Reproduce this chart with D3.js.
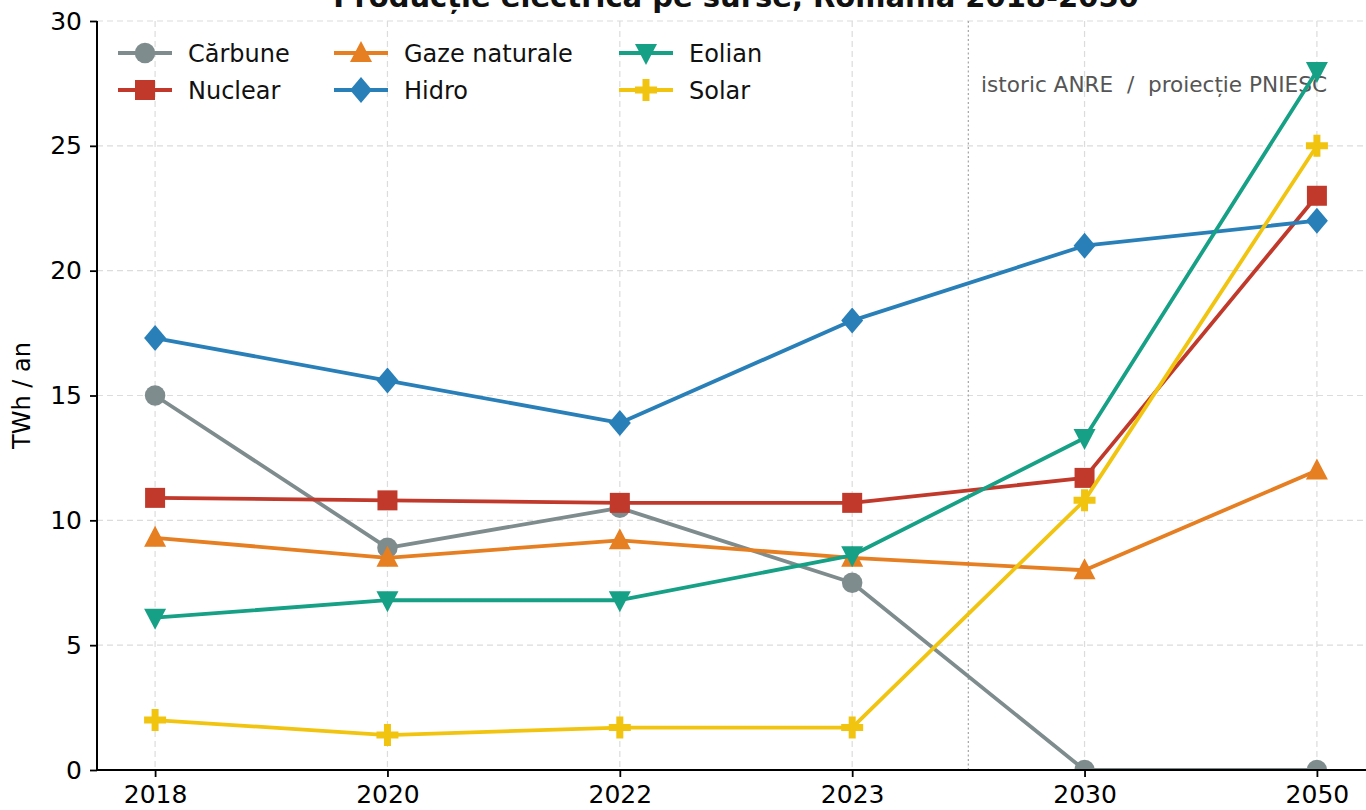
<!DOCTYPE html>
<html><head><meta charset="utf-8">
<script src="https://cdn.jsdelivr.net/npm/d3@7"></script>
<style>
html,body{margin:0;padding:0;background:#fff;overflow:hidden;}
text{font-family:"DejaVu Sans",sans-serif;}
</style></head>
<body>
<svg id="c" width="1366" height="810"></svg>
<script>
const years = ["2018","2020","2022","2023","2030","2050"];
const yTicks = [0,5,10,15,20,25,30];
const seriesNames = ["Cărbune","Nuclear","Gaze naturale","Hidro","Eolian","Solar"];
const carbune = [15.0, 8.9, 10.5, 7.5, 0, 0];
const nuclear = [10.9, 10.8, 10.7, 10.7, 11.7, 23.0];
const gaze = [9.3, 8.5, 9.2, 8.5, 8.0, 12.0];
const hidro = [17.3, 15.6, 13.9, 18.0, 21.0, 22.0];
const eolian = [6.1, 6.8, 6.8, 8.6, 13.3, 28.0];
const solar = [2.0, 1.4, 1.7, 1.7, 10.8, 25.0];
const colors = ["#7f8c8d","#c0392b","#e67e22","#2980b9","#16a085","#f1c40f"];
const markers = ["circle","square","triUp","diamond","triDown","plus"];
const title = "Producție electrică pe surse, România 2018-2050";
const yLabel = "TWh / an";
const note = "istoric ANRE  /  proiecție PNIESC";

const values = [carbune, nuclear, gaze, hidro, eolian, solar];
const series = seriesNames.map((n,i)=>({name:n, color:colors[i], marker:markers[i], values:values[i]}));

const svg = d3.select("#c");
const L = 97, R = 1375, T = 21, B = 770;
const x = d3.scalePoint().domain(years).range([L,R]).padding(0.25);
const y = d3.scaleLinear().domain([0,30]).range([B,T]);

svg.append("defs").append("clipPath").attr("id","clip")
  .append("rect").attr("x",L).attr("y",T).attr("width",R-L).attr("height",B-T);

// grid
const g = svg.append("g");
g.selectAll(".hg").data(yTicks).join("line")
  .attr("x1",L).attr("x2",R).attr("y1",d=>y(d)).attr("y2",d=>y(d))
  .attr("stroke","#dcdcdc").attr("stroke-width",1.2).attr("stroke-dasharray","6,4");
g.selectAll(".vg").data(years).join("line")
  .attr("x1",d=>x(d)).attr("x2",d=>x(d)).attr("y1",T).attr("y2",B)
  .attr("stroke","#dcdcdc").attr("stroke-width",1.2).attr("stroke-dasharray","6,4");

// divider between history and projection
const xm = (x("2023")+x("2030"))/2;
svg.append("line").attr("x1",xm).attr("x2",xm).attr("y1",T).attr("y2",B)
  .attr("stroke","#aaaaaa").attr("stroke-width",1.3).attr("stroke-dasharray","2,2.5");

svg.append("text").attr("x",1327).attr("y",92).attr("text-anchor","end")
  .attr("font-size",21.6).attr("fill","#555").style("white-space","pre").text(note);

// marker shapes
function markerPath(type){
  switch(type){
    case "circle": return d3.symbol(d3.symbolCircle, 330)();
    case "square": return "M-10,-10H10V10H-10Z";
    case "triUp": return "M0,-12L11,9H-11Z";
    case "triDown": return "M0,12L11,-9H-11Z";
    case "diamond": return "M0,-13L11,0L0,13L-11,0Z";
    case "plus": return "M-3.5,-11H3.5V-3.5H11V3.5H3.5V11H-3.5V3.5H-11V-3.5H-3.5Z";
  }
}

const plot = svg.append("g").attr("clip-path","url(#clip)");
const line = d3.line().x((d,i)=>x(years[i])).y(d=>y(d));
series.forEach(s=>{
  const gs = plot.append("g");
  gs.append("path").attr("d",line(s.values)).attr("fill","none")
    .attr("stroke",s.color).attr("stroke-width",3.8).attr("stroke-linejoin","round");
  gs.selectAll("path.m").data(s.values).join("path").attr("class","m")
    .attr("d",markerPath(s.marker))
    .attr("transform",(d,i)=>`translate(${x(years[i])},${y(d)})`)
    .attr("fill",s.color);
});

// axes
const yAxis = svg.append("g").attr("transform",`translate(${L},0)`)
  .call(d3.axisLeft(y).tickValues(yTicks).tickSize(7).tickPadding(8));
const xAxis = svg.append("g").attr("transform",`translate(0,${B})`)
  .call(d3.axisBottom(x).tickSize(7).tickPadding(8));
[yAxis,xAxis].forEach(a=>{
  a.select(".domain").attr("stroke","#000").attr("stroke-width",2);
  a.selectAll(".tick line").attr("stroke","#000").attr("stroke-width",1.8);
  a.selectAll(".tick text").attr("font-size",25).attr("fill","#000")
   .attr("font-family","DejaVu Sans, sans-serif");
});
xAxis.select(".domain").attr("d",`M${L},0H1366`);
yAxis.select(".domain").attr("d",`M0,${T}V${B}`);

svg.append("text").attr("transform",`translate(30,${(T+B)/2}) rotate(-90)`)
  .attr("text-anchor","middle").attr("font-size",24).attr("fill","#000").text(yLabel);

svg.append("text").attr("x",(L+R)/2).attr("y",7).attr("text-anchor","middle")
  .attr("font-size",29).attr("font-weight","bold").attr("fill","#111").text(title);

// legend
const legX = [145, 361, 646], legY = [53, 90];
series.forEach((s,i)=>{
  const col = Math.floor(i/2), row = i%2;
  const lg = svg.append("g").attr("transform",`translate(${legX[col]},${legY[row]})`);
  lg.append("line").attr("x1",-27).attr("x2",27).attr("stroke",s.color).attr("stroke-width",3.8);
  lg.append("path").attr("d",markerPath(s.marker)).attr("fill",s.color);
  lg.append("text").attr("x",43).attr("y",0).attr("dy","0.36em")
    .attr("font-size",24).attr("fill","#111").text(s.name);
});
</script>
</body></html>
